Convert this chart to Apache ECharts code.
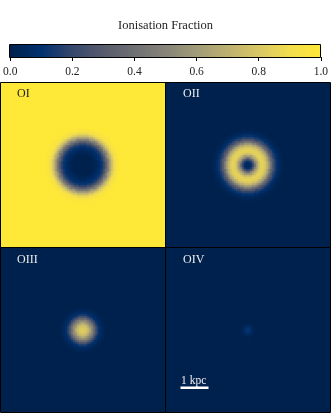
<!DOCTYPE html>
<html><head><meta charset="utf-8">
<script src="https://cdn.jsdelivr.net/npm/echarts@6/dist/echarts.min.js"></script>
<style>html,body{margin:0;padding:0;background:#fff}#c{width:331px;height:413px}</style>
</head><body><div id="c"></div>
<script>
// ---- data ----
const panelNames = ['OI', 'OII', 'OIII', 'OIV'];
// radial profiles of ionisation fraction, one value per pixel of radius from the blob centre
const profileOI = [0,0,0,0,0,0,0,0,0,0,0,0.01,0.02,0.03,0.04,0.05,0.06,0.08,0.1,0.12,0.15,0.19,0.24,0.3,0.37,0.45,0.53,0.61,0.68,0.75,0.81,0.86,0.9,0.93,0.95,0.97,0.98,0.99,1];
const profileOII = [0.02,0.03,0.05,0.08,0.13,0.2,0.29,0.39,0.5,0.6,0.69,0.76,0.81,0.84,0.85,0.85,0.84,0.82,0.78,0.73,0.67,0.6,0.52,0.44,0.36,0.29,0.23,0.18,0.14,0.11,0.08,0.06,0.04,0.03,0.02,0.01,0];
const profileOIII = [0.82,0.82,0.81,0.8,0.78,0.75,0.71,0.66,0.6,0.53,0.46,0.39,0.32,0.26,0.2,0.15,0.11,0.08,0.06,0.04,0.03,0.02,0.01,0];
const profileOIV = [0.12,0.11,0.09,0.07,0.05,0.03,0.02,0.01,0];
const profiles = [profileOI, profileOII, profileOIII, profileOIV];
const cbTicks = [0, 0.2, 0.4, 0.6, 0.8, 1.0];
const cividis = ['#00224e','#00326f','#37486e','#575c6d','#6f7073','#878479','#a19b78','#bcb071','#d8c765','#f1dd4f','#fee838'];
const scaleLabel = '1 kpc';
const cbTitle = 'Ionisation Fraction';

// ---- build ----
const N = 82, C = 40.5;
const panelW = 164;
const cellPx = panelW / N;
const idx = Array.from({length: N}, (_, i) => i);
function buildGrid(prof) {
  const out = [];
  for (let i = 0; i < N; i++) for (let j = 0; j < N; j++) {
    const d = Math.round(Math.hypot(i - C, j - C) * cellPx);
    out.push([i, j, d < prof.length ? prof[d] : prof[prof.length - 1]]);
  }
  return out;
}
const CB = 311;
const cbCats = Array.from({length: CB}, (_, i) => i);
const cbData = cbCats.map(i => [i, 0, i / (CB - 1)]);

const serif = 'Liberation Serif';
const panelPos = [[1, 83], [166, 83], [1, 248], [166, 248]];
const grids = panelPos.map(p => ({left: p[0], top: p[1], width: panelW, height: panelW}));
grids.push({left: 10, top: 45, width: 311, height: 12});
grids.push({left: 10, top: 45, width: 311, height: 12});

const xAxes = [], yAxes = [], series = [];
for (let g = 0; g < 4; g++) {
  xAxes.push({type: 'category', gridIndex: g, data: idx, show: false});
  yAxes.push({type: 'category', gridIndex: g, data: idx, show: false});
  series.push({type: 'heatmap', xAxisIndex: g, yAxisIndex: g, data: buildGrid(profiles[g]), progressive: 0, silent: true});
}
xAxes.push({type: 'category', gridIndex: 4, data: cbCats, show: false});
yAxes.push({type: 'category', gridIndex: 4, data: ['0'], show: false});
series.push({type: 'heatmap', xAxisIndex: 4, yAxisIndex: 4, data: cbData, progressive: 0, silent: true});
xAxes.push({type: 'value', gridIndex: 5, min: cbTicks[0], max: cbTicks[cbTicks.length - 1], interval: 0.2,
  axisLine: {show: false}, splitLine: {show: false},
  axisTick: {show: true, length: 4, lineStyle: {color: '#000', width: 1}},
  axisLabel: {formatter: v => v.toFixed(1), fontSize: 11.5, color: '#222', fontFamily: serif, margin: 9}});
yAxes.push({type: 'value', gridIndex: 5, show: false});
series.push({type: 'scatter', xAxisIndex: 5, yAxisIndex: 5, data: [], silent: true});

const titles = [{text: cbTitle, left: 'center', top: 19, padding: 0, textStyle: {fontFamily: serif, fontSize: 12.5, fontWeight: 'normal', color: '#222'}}];
const labelPos = [[17, 88], [183, 88], [17, 254], [183, 254]];
panelNames.forEach((n, k) => titles.push({text: n, left: labelPos[k][0], top: labelPos[k][1], padding: 0,
  textStyle: {fontFamily: serif, fontSize: 12, fontWeight: 'normal', color: k === 0 ? '#222' : '#eeeeee'}}));

const graphics = [
  {type: 'rect', z: 100, shape: {x: 9.5, y: 44.5, width: 311, height: 13}, style: {fill: 'none', stroke: '#000', lineWidth: 1}},
  {type: 'rect', z: 100, shape: {x: 0.5, y: 82.5, width: 165, height: 165}, style: {fill: 'none', stroke: '#000', lineWidth: 1}},
  {type: 'rect', z: 100, shape: {x: 165.5, y: 82.5, width: 165, height: 165}, style: {fill: 'none', stroke: '#000', lineWidth: 1}},
  {type: 'rect', z: 100, shape: {x: 0.5, y: 247.5, width: 165, height: 165}, style: {fill: 'none', stroke: '#000', lineWidth: 1}},
  {type: 'rect', z: 100, shape: {x: 165.5, y: 247.5, width: 165, height: 165}, style: {fill: 'none', stroke: '#000', lineWidth: 1}},
  {type: 'text', z: 100, x: 181, y: 380.5, style: {text: scaleLabel, fill: '#eeeeee', font: '11.5px "Liberation Serif"', verticalAlign: 'middle', align: 'left'}},
  {type: 'rect', z: 100, shape: {x: 180.5, y: 386.5, width: 28, height: 2.5}, style: {fill: '#ffffff'}}
];

const chart = echarts.init(document.getElementById('c'), null, {renderer: 'canvas'});
chart.setOption({
  animation: false,
  backgroundColor: '#fff',
  title: titles,
  grid: grids,
  xAxis: xAxes,
  yAxis: yAxes,
  visualMap: {type: 'continuous', min: 0, max: 1, show: false, seriesIndex: [0, 1, 2, 3, 4], inRange: {color: cividis}},
  series: series,
  graphic: graphics
});
</script></body></html>
